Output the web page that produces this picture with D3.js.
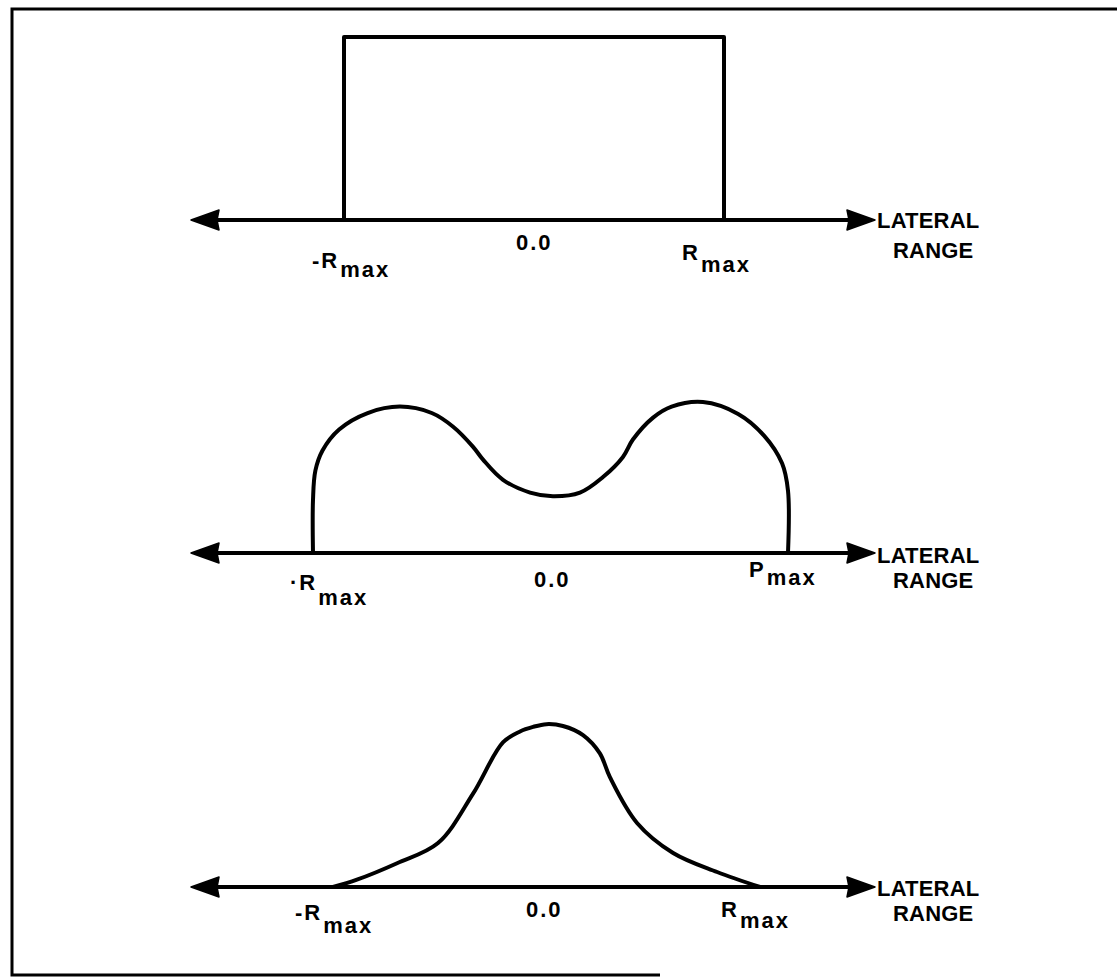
<!DOCTYPE html>
<html>
<head>
<meta charset="utf-8">
<script src="https://cdn.jsdelivr.net/npm/d3@7"></script>
<style>
  html, body { margin: 0; padding: 0; background: #fff; }
  svg { display: block; }
  text { font-family: "Liberation Sans", Arial, Helvetica, sans-serif; fill: #000; }
</style>
</head>
<body>
<script>
// ---------------- DATA ----------------
// Normalized lateral range: -1 = -Rmax, 0 = centre, 1 = Rmax
// Normalized detection probability (0..1)
const panel1X = [-1, -1, 1, 1];
const panel1Y = [0, 1, 1, 0];

const panel2X = [-1.0, -1.0, -0.99, -0.96, -0.89, -0.77, -0.634, -0.50, -0.41, -0.326, -0.284, -0.2, -0.086, 0.01, 0.124, 0.221, 0.305, 0.347, 0.432, 0.51, 0.642, 0.79, 0.90, 0.975, 1.0, 1.0];
const panel2Y = [0, 0.29, 0.45, 0.56, 0.675, 0.765, 0.80, 0.765, 0.69, 0.58, 0.51, 0.40, 0.33, 0.31, 0.33, 0.415, 0.525, 0.62, 0.74, 0.80, 0.825, 0.76, 0.64, 0.49, 0.34, 0];

const panel3X = [-1.0, -0.888, -0.70, -0.508, -0.344, -0.204, -0.124, -0.063, 0.0, 0.077, 0.171, 0.25, 0.297, 0.424, 0.593, 0.799, 1.0];
const panel3Y = [0, 0.04, 0.13, 0.24, 0.51, 0.79, 0.85, 0.875, 0.89, 0.88, 0.83, 0.73, 0.60, 0.35, 0.186, 0.082, 0];

// tick labels: [main, subscript]
const leftTickLabels  = [["-R", "max"], ["·R", "max"], ["-R", "max"]];
const centerTickLabels = ["0.0", "0.0", "0.0"];
const rightTickLabels = [["R", "max"], ["P", "max"], ["R", "max"]];
const axisTitleLines = ["LATERAL", "RANGE"];

// ---------------- LAYOUT ----------------
const W = 1117, H = 977;
const svg = d3.select("body").append("svg").attr("width", W).attr("height", H);

const panels = [
  { xs: panel1X, ys: panel1Y, axisY: 220, xl: 344, xr: 724, curve: d3.curveLinear,
    left: { x: 312, base: 268, subDy: 9 }, center: { x: 516, base: 250 }, right: { x: 682, base: 260, subDy: 12 },
    title: { x: 877, base1: 228, base2: 258 } },
  { xs: panel2X, ys: panel2Y, axisY: 553, xl: 313, xr: 788, curve: d3.curveCatmullRom.alpha(0.5),
    left: { x: 290, base: 590, subDy: 15 }, center: { x: 534, base: 587 }, right: { x: 749, base: 577, subDy: 8 },
    title: { x: 877, base1: 563, base2: 588 } },
  { xs: panel3X, ys: panel3Y, axisY: 887, xl: 333, xr: 760, curve: d3.curveCatmullRom.alpha(0.5),
    left: { x: 295, base: 920, subDy: 13 }, center: { x: 526, base: 917 }, right: { x: 721, base: 917, subDy: 11 },
    title: { x: 877, base1: 896, base2: 921 } }
];

const yHeight = 183;
const arrowL = 191, arrowR = 875, headLen = 28, headHalf = 10;

// border (open frame as scanned)
svg.append("path")
  .attr("d", `M1117,9 L12,9 L12,975 L660,975`)
  .attr("fill", "none").attr("stroke", "#000").attr("stroke-width", 3);

panels.forEach((p, i) => {
  const x = d3.scaleLinear().domain([-1, 1]).range([p.xl, p.xr]);
  const y = d3.scaleLinear().domain([0, 1]).range([p.axisY, p.axisY - yHeight]);
  const g = svg.append("g");

  // curve
  const pts = p.xs.map((v, k) => [v, p.ys[k]]);
  const line = d3.line().x(d => x(d[0])).y(d => y(d[1])).curve(p.curve);
  g.append("path").attr("d", line(pts))
    .attr("fill", "none").attr("stroke", "#000").attr("stroke-width", 4)
    .attr("stroke-linejoin", "round").attr("stroke-linecap", "butt");

  // axis line
  g.append("line")
    .attr("x1", arrowL + headLen - 2).attr("x2", arrowR - headLen + 2)
    .attr("y1", p.axisY).attr("y2", p.axisY)
    .attr("stroke", "#000").attr("stroke-width", 4);
  // arrowheads
  g.append("path")
    .attr("d", `M${arrowL},${p.axisY} L${arrowL + headLen},${p.axisY - headHalf} L${arrowL + headLen - 2},${p.axisY} L${arrowL + headLen},${p.axisY + headHalf} Z`)
    .attr("fill", "#000").attr("stroke", "#000").attr("stroke-width", 1.5).attr("stroke-linejoin", "round");
  g.append("path")
    .attr("d", `M${arrowR},${p.axisY} L${arrowR - headLen},${p.axisY - headHalf} L${arrowR - headLen + 2},${p.axisY} L${arrowR - headLen},${p.axisY + headHalf} Z`)
    .attr("fill", "#000").attr("stroke", "#000").attr("stroke-width", 1.5).attr("stroke-linejoin", "round");

  // tick labels
  const lab = (cfg, parts) => {
    const t = g.append("text").attr("x", cfg.x).attr("y", cfg.base)
      .attr("font-size", 22).attr("font-weight", "bold").attr("letter-spacing", 2);
    t.append("tspan").text(parts[0]);
    if (parts[1]) t.append("tspan").attr("dy", cfg.subDy).attr("dx", 1).text(parts[1]);
  };
  lab(p.left, leftTickLabels[i]);
  lab(p.center, [centerTickLabels[i]]);
  lab(p.right, rightTickLabels[i]);

  // axis title
  g.append("text").attr("x", p.title.x).attr("y", p.title.base1)
    .attr("font-size", 22).attr("font-weight", "bold").attr("letter-spacing", 0.2)
    .text(axisTitleLines[0]);
  g.append("text").attr("x", p.title.x + 16).attr("y", p.title.base2)
    .attr("font-size", 22).attr("font-weight", "bold").attr("letter-spacing", 0.2)
    .text(axisTitleLines[1]);
});
</script>
</body>
</html>
